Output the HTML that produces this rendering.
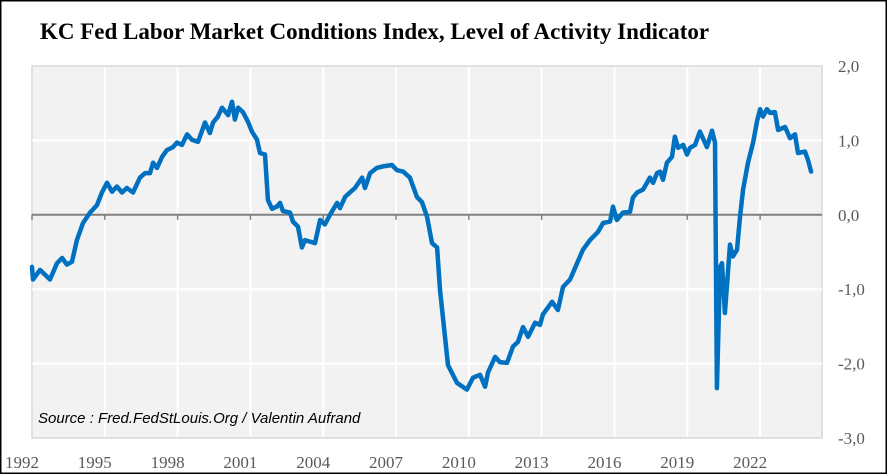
<!DOCTYPE html>
<html><head><meta charset="utf-8"><style>
html,body{margin:0;padding:0;background:#fff}
#wrap{position:relative;width:887px;height:474px;overflow:hidden}
</style></head><body>
<div id="wrap">
<svg id="chart" width="887" height="474" xmlns="http://www.w3.org/2000/svg">
<rect x="0.5" y="0.5" width="886" height="473" fill="#fff" stroke="#000" stroke-width="2"/>
<text x="40" y="39" font-family="Liberation Serif, serif" font-weight="bold" font-size="23" fill="#000">KC Fed Labor Market Conditions Index, Level of Activity  Indicator</text>
<rect x="32" y="66" width="790" height="372" fill="#f2f2f2" stroke="#d9d9d9" stroke-width="1.5"/>
<g id="grid"></g>
<g id="series"></g>
<g id="labels"></g>
<text x="38" y="423" font-family="Liberation Sans, sans-serif" font-style="italic" font-size="15" fill="#000">Source : Fred.FedStLouis.Org / Valentin Aufrand</text>
</svg>
</div>
<script>
const years = [1992.00,1992.04,1992.33,1992.74,1993.03,1993.24,1993.44,1993.65,1993.85,1994.10,1994.39,1994.68,1994.88,1995.09,1995.30,1995.50,1995.71,1995.91,1996.16,1996.45,1996.66,1996.86,1996.99,1997.15,1997.36,1997.56,1997.81,1997.97,1998.18,1998.39,1998.59,1998.84,1999.13,1999.33,1999.46,1999.66,1999.83,2000.08,2000.24,2000.36,2000.49,2000.69,2000.90,2001.06,2001.27,2001.39,2001.60,2001.72,2001.89,2002.09,2002.22,2002.34,2002.63,2002.75,2002.96,2003.12,2003.25,2003.66,2003.87,2004.07,2004.28,2004.57,2004.69,2004.90,2005.10,2005.31,2005.60,2005.72,2005.93,2006.21,2006.46,2006.83,2007.04,2007.29,2007.57,2007.86,2008.07,2008.28,2008.48,2008.69,2008.81,2009.14,2009.51,2009.92,2010.17,2010.46,2010.67,2010.79,2011.08,2011.28,2011.57,2011.82,2012.02,2012.23,2012.44,2012.73,2012.93,2013.05,2013.43,2013.67,2013.88,2014.17,2014.46,2014.70,2014.99,2015.32,2015.53,2015.82,2015.94,2016.10,2016.35,2016.64,2016.76,2016.93,2017.18,2017.34,2017.46,2017.59,2017.75,2017.88,2018.00,2018.16,2018.37,2018.49,2018.62,2018.83,2018.99,2019.11,2019.32,2019.52,2019.81,2020.02,2020.14,2020.22,2020.35,2020.43,2020.55,2020.76,2020.88,2021.05,2021.17,2021.30,2021.50,2021.71,2021.87,2022.00,2022.12,2022.28,2022.41,2022.61,2022.74,2023.03,2023.23,2023.44,2023.56,2023.85,2023.97,2024.10];
const values = [-0.70,-0.87,-0.74,-0.87,-0.65,-0.58,-0.67,-0.63,-0.34,-0.11,0.03,0.13,0.30,0.43,0.31,0.38,0.30,0.36,0.30,0.50,0.56,0.56,0.70,0.63,0.78,0.87,0.91,0.97,0.94,1.08,1.01,0.98,1.24,1.10,1.24,1.32,1.44,1.34,1.52,1.28,1.44,1.38,1.25,1.12,1.01,0.83,0.81,0.20,0.08,0.11,0.16,0.05,0.03,-0.09,-0.16,-0.44,-0.34,-0.38,-0.07,-0.13,0.00,0.16,0.09,0.24,0.30,0.36,0.50,0.36,0.56,0.63,0.65,0.67,0.60,0.58,0.50,0.24,0.17,-0.03,-0.38,-0.44,-1.01,-2.02,-2.26,-2.35,-2.19,-2.15,-2.31,-2.12,-1.91,-1.98,-1.99,-1.77,-1.71,-1.51,-1.64,-1.45,-1.48,-1.34,-1.17,-1.28,-0.97,-0.87,-0.65,-0.47,-0.34,-0.23,-0.11,-0.09,0.11,-0.07,0.03,0.04,0.23,0.30,0.34,0.43,0.50,0.43,0.56,0.58,0.47,0.70,0.78,1.05,0.90,0.94,0.81,0.90,0.94,1.12,0.91,1.13,0.97,-2.33,-0.70,-0.65,-1.32,-0.40,-0.56,-0.47,-0.03,0.34,0.70,0.97,1.25,1.42,1.32,1.42,1.37,1.38,1.14,1.18,1.03,1.08,0.83,0.85,0.74,0.58];
const xTicks = [1992,1995,1998,2001,2004,2007,2010,2013,2016,2019,2022];
const yTicks = [2,1,0,-1,-2,-3];
const yTickLabels = ["2,0","1,0","0,0","-1,0","-2,0","-3,0"];

const NS="http://www.w3.org/2000/svg";
const X0=32,X1=822,Y0=66,Y1=438;
const xStart=1992, pxPerYear=24.27;
function xScale(y){return X0+(y-xStart)*pxPerYear;}
function yScale(v){return Y0+(2-v)*(Y1-Y0)/5;}
function mk(tag,attrs,parent){const e=document.createElementNS(NS,tag);for(const k in attrs)e.setAttribute(k,attrs[k]);parent.appendChild(e);return e;}
const grid=document.getElementById('grid'),labels=document.getElementById('labels'),series=document.getElementById('series');
yTicks.forEach((t,i)=>{
  if(t!==0&&t!==2&&t!==-3){
    const l=mk('line',{x1:X0,x2:X1,y1:yScale(t),y2:yScale(t),stroke:'#fff','stroke-width':2},grid);
    
    
  }
  const tx=mk('text',{x:838,y:yScale(t)+6,'font-family':'Liberation Serif, serif','font-size':17,fill:'#595959'},labels);
  tx.textContent=yTickLabels[i];
  
  
});
xTicks.forEach(t=>{
  const x=xScale(t);
  if(t!==xStart){
    const l=mk('line',{x1:x,x2:x,y1:Y0+1,y2:Y1-1,stroke:'#fff','stroke-width':2},grid);
    
    
  }
  const tk=mk('line',{x1:x,x2:x,y1:yScale(0),y2:yScale(0)+5,stroke:'#808080','stroke-width':1.5},grid);
  
  
  const tx=mk('text',{x:x-10,y:468,'text-anchor':'middle','font-family':'Liberation Serif, serif','font-size':17,fill:'#595959'},labels);
  tx.textContent=String(t);
  
  
});
const zl=mk('line',{x1:X0,x2:X1,y1:yScale(0),y2:yScale(0),stroke:'#808080','stroke-width':2},grid);


let d='';
years.forEach((y,i)=>{d+=(i?'L':'M')+xScale(y).toFixed(1)+','+yScale(values[i]).toFixed(1);});
const p=mk('path',{d:d,fill:'none',stroke:'#0070c0','stroke-width':4.5,'stroke-linejoin':'round','stroke-linecap':'round'},series);


</script>
</body></html>
